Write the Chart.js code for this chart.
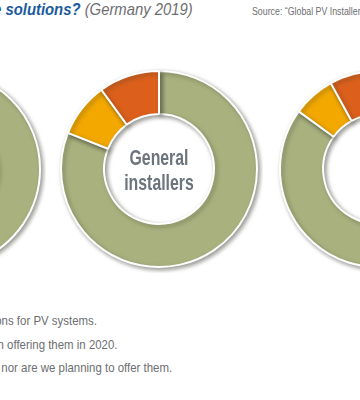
<!DOCTYPE html>
<html>
<head>
<meta charset="utf-8">
<script src="https://cdn.jsdelivr.net/npm/chart.js@4.4.0/dist/chart.umd.min.js"></script>
<style>
  html, body { margin: 0; padding: 0; }
  body { width: 360px; height: 400px; position: relative; overflow: hidden; background: #fff;
         font-family: "Liberation Sans", Arial, sans-serif; }
  .box { position: absolute; width: 208px; height: 208px; }
  .box canvas { display: block; }
  .title { position: absolute; right: 167px; top: 0px; white-space: nowrap; font-size: 16.5px;
           transform: scaleX(0.9); transform-origin: right center; }
  .title b { color: #1b5a9e; font-style: italic; }
  .title i { color: #6d6e71; }
  .source { position: absolute; left: 252px; top: 5px; white-space: nowrap; font-size: 11px; color: #6d6e71;
            transform: scaleX(0.8); transform-origin: left center; }
  .leg { position: absolute; white-space: nowrap; font-size: 13px; color: #6d6e71;
         transform: scaleX(0.88); transform-origin: right center; }
</style>
</head>
<body>
<div class="title"><b>Do you offer storage solutions?</b> <i>(Germany 2019)</i></div>
<div class="source">Source: “Global PV Installer Survey 2019”</div>

<div class="box" style="left:-162px; top:65px;"><canvas id="c0"></canvas></div>
<div class="box" style="left:55px; top:65px;"><canvas id="c1"></canvas></div>
<div class="box" style="left:274px; top:65px;"><canvas id="c2"></canvas></div>

<div class="leg" id="l0" style="right:263px; top:313px;"></div>
<div class="leg" id="l1" style="right:242px; top:337px;"></div>
<div class="leg" id="l2" style="right:188px; top:360px;"></div>

<script>
const answers = [
  'Yes, we offer storage solutions for PV systems.',
  'No, but we are planning on offering them in 2020.',
  'No, we are not offering them, nor are we planning to offer them.'
];
const colors = ['#a9b27f', '#f3a800', '#dc601b'];

const groups = ['Specialist installers', 'General installers', 'Electricians'];
const specialist = [88, 5, 7];
const general = [81, 9, 10];
const electricians = [85, 7, 8];

answers.forEach((t, i) => { document.getElementById('l' + i).textContent = t; });

const shadow = {
  id: 'shadow',
  beforeDatasetsDraw(chart) {
    const ctx = chart.ctx;
    ctx.save();
    ctx.shadowColor = 'rgba(60,60,50,0.5)';
    ctx.shadowBlur = 4;
    ctx.shadowOffsetX = 2;
    ctx.shadowOffsetY = 2;
  },
  afterDatasetsDraw(chart) {
    chart.ctx.restore();
  }
};

// group name inside the hole, squeezed to look like a condensed face
const centerLabel = {
  id: 'centerLabel',
  afterDraw(chart, args, opts) {
    if (!opts.show) return;
    const ctx = chart.ctx;
    const arc = chart.getDatasetMeta(0).data[0];
    const words = chart.data.datasets[0].label.split(' ');
    ctx.save();
    ctx.translate(arc.x, arc.y);
    ctx.scale(0.72, 1);
    ctx.fillStyle = '#6b737d';
    ctx.font = 'bold 22px "Liberation Sans", Arial, sans-serif';
    ctx.textAlign = 'center';
    ctx.fillText(words[0], 0, -4);
    ctx.fillText(words.slice(1).join(' '), 0, 21);
    ctx.restore();
  }
};

function renderDonut(id, label, values, showLabel) {
  return new Chart(document.getElementById(id), {
    type: 'doughnut',
    data: {
      labels: answers,
      datasets: [{
        label: label,
        data: values,
        backgroundColor: colors,
        borderColor: '#ffffff',
        borderWidth: 2
      }]
    },
    options: {
      responsive: true,
      maintainAspectRatio: false,
      animation: false,
      cutout: '56%',
      layout: { padding: 5 },
      plugins: {
        legend: { display: false },
        tooltip: { enabled: false },
        centerLabel: { show: showLabel }
      }
    },
    plugins: [shadow, centerLabel]
  });
}

renderDonut('c0', groups[0], specialist, false);
renderDonut('c1', groups[1], general, true);
renderDonut('c2', groups[2], electricians, false);
</script>
</body>
</html>
